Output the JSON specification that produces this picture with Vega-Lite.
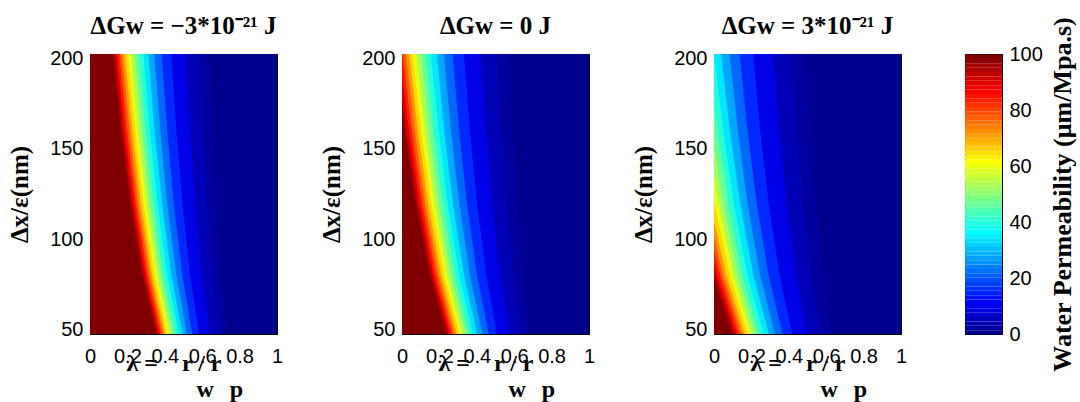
{
"$schema": "https://vega.github.io/schema/vega-lite/v6.json",
"background": "white",
"padding": {"left": 6, "top": 13, "right": 5, "bottom": 5},
"config": {
  "view": {"stroke": "black", "strokeWidth": 1},
  "axis": {"labelFont": "Liberation Sans", "labelFontSize": 20, "labelColor": "black", "tickColor": "black", "tickSize": -4, "tickWidth": 1, "domain": false, "grid": false, "titleFont": "Liberation Serif", "titleFontSize": 25, "titleFontWeight": "bold", "titleColor": "black", "zindex": 1, "labelOverlap": false, "labelFlush": false},
  "title": {"font": "Liberation Serif", "fontSize": 25, "fontWeight": "bold", "color": "black", "offset": 10}
},
"datasets": {
"p1": [
{"c":0.8,"y":47.5,"x":1},{"c":0.8,"y":202.5,"x":1},
{"c":2.3,"y":47.5,"x":0.733},{"c":2.3,"y":80,"x":0.701},{"c":2.3,"y":120,"x":0.675},{"c":2.3,"y":160,"x":0.654},{"c":2.3,"y":202.5,"x":0.636},
{"c":4.6,"y":47.5,"x":0.693},{"c":4.6,"y":80,"x":0.657},{"c":4.6,"y":120,"x":0.626},{"c":4.6,"y":160,"x":0.603},{"c":4.6,"y":202.5,"x":0.582},
{"c":9.4,"y":47.5,"x":0.641},{"c":9.4,"y":80,"x":0.599},{"c":9.4,"y":120,"x":0.563},{"c":9.4,"y":160,"x":0.535},{"c":9.4,"y":202.5,"x":0.511},
{"c":15.6,"y":47.5,"x":0.584},{"c":15.6,"y":80,"x":0.535},{"c":15.6,"y":120,"x":0.494},{"c":15.6,"y":160,"x":0.462},{"c":15.6,"y":202.5,"x":0.434},
{"c":21.9,"y":47.5,"x":0.547},{"c":21.9,"y":80,"x":0.494},{"c":21.9,"y":120,"x":0.448},{"c":21.9,"y":160,"x":0.413},{"c":21.9,"y":202.5,"x":0.383},
{"c":28.1,"y":47.5,"x":0.518},{"c":28.1,"y":80,"x":0.462},{"c":28.1,"y":120,"x":0.413},{"c":28.1,"y":160,"x":0.376},{"c":28.1,"y":202.5,"x":0.344},
{"c":34.4,"y":47.5,"x":0.495},{"c":34.4,"y":80,"x":0.435},{"c":34.4,"y":120,"x":0.385},{"c":34.4,"y":160,"x":0.346},{"c":34.4,"y":202.5,"x":0.312},
{"c":40.6,"y":47.5,"x":0.475},{"c":40.6,"y":80,"x":0.413},{"c":40.6,"y":120,"x":0.36},{"c":40.6,"y":160,"x":0.32},{"c":40.6,"y":202.5,"x":0.285},
{"c":46.9,"y":47.5,"x":0.457},{"c":46.9,"y":80,"x":0.393},{"c":46.9,"y":120,"x":0.339},{"c":46.9,"y":160,"x":0.297},{"c":46.9,"y":202.5,"x":0.261},
{"c":53.1,"y":47.5,"x":0.441},{"c":53.1,"y":80,"x":0.376},{"c":53.1,"y":120,"x":0.32},{"c":53.1,"y":160,"x":0.277},{"c":53.1,"y":202.5,"x":0.24},
{"c":59.4,"y":47.5,"x":0.427},{"c":59.4,"y":80,"x":0.36},{"c":59.4,"y":120,"x":0.302},{"c":59.4,"y":160,"x":0.258},{"c":59.4,"y":202.5,"x":0.22},
{"c":65.6,"y":47.5,"x":0.414},{"c":65.6,"y":80,"x":0.346},{"c":65.6,"y":120,"x":0.287},{"c":65.6,"y":160,"x":0.242},{"c":65.6,"y":202.5,"x":0.203},
{"c":71.9,"y":47.5,"x":0.402},{"c":71.9,"y":80,"x":0.332},{"c":71.9,"y":120,"x":0.272},{"c":71.9,"y":160,"x":0.226},{"c":71.9,"y":202.5,"x":0.186},
{"c":78.1,"y":47.5,"x":0.391},{"c":78.1,"y":80,"x":0.32},{"c":78.1,"y":120,"x":0.258},{"c":78.1,"y":160,"x":0.212},{"c":78.1,"y":202.5,"x":0.171},
{"c":84.4,"y":47.5,"x":0.381},{"c":84.4,"y":80,"x":0.308},{"c":84.4,"y":120,"x":0.246},{"c":84.4,"y":160,"x":0.198},{"c":84.4,"y":202.5,"x":0.157},
{"c":90.6,"y":47.5,"x":0.371},{"c":90.6,"y":80,"x":0.297},{"c":90.6,"y":120,"x":0.234},{"c":90.6,"y":160,"x":0.185},{"c":90.6,"y":202.5,"x":0.144},
{"c":96,"y":47.5,"x":0.362},{"c":96,"y":80,"x":0.287},{"c":96,"y":120,"x":0.222},{"c":96,"y":160,"x":0.173},{"c":96,"y":202.5,"x":0.131},
{"c":100,"y":47.5,"x":0.356},{"c":100,"y":80,"x":0.28},{"c":100,"y":120,"x":0.215},{"c":100,"y":160,"x":0.166},{"c":100,"y":202.5,"x":0.123}
],
"p2": [
{"c":0.8,"y":47.5,"x":1},{"c":0.8,"y":202.5,"x":1},
{"c":2.3,"y":47.5,"x":0.684},{"c":2.3,"y":80,"x":0.647},{"c":2.3,"y":120,"x":0.615},{"c":2.3,"y":160,"x":0.591},{"c":2.3,"y":202.5,"x":0.57},
{"c":4.6,"y":47.5,"x":0.637},{"c":4.6,"y":80,"x":0.595},{"c":4.6,"y":120,"x":0.558},{"c":4.6,"y":160,"x":0.53},{"c":4.6,"y":202.5,"x":0.506},
{"c":9.4,"y":47.5,"x":0.576},{"c":9.4,"y":80,"x":0.526},{"c":9.4,"y":120,"x":0.483},{"c":9.4,"y":160,"x":0.451},{"c":9.4,"y":202.5,"x":0.422},
{"c":15.6,"y":47.5,"x":0.508},{"c":15.6,"y":80,"x":0.451},{"c":15.6,"y":120,"x":0.401},{"c":15.6,"y":160,"x":0.363},{"c":15.6,"y":202.5,"x":0.331},
{"c":21.9,"y":47.5,"x":0.464},{"c":21.9,"y":80,"x":0.401},{"c":21.9,"y":120,"x":0.347},{"c":21.9,"y":160,"x":0.306},{"c":21.9,"y":202.5,"x":0.27},
{"c":28.1,"y":47.5,"x":0.43},{"c":28.1,"y":80,"x":0.363},{"c":28.1,"y":120,"x":0.306},{"c":28.1,"y":160,"x":0.262},{"c":28.1,"y":202.5,"x":0.224},
{"c":34.4,"y":47.5,"x":0.402},{"c":34.4,"y":80,"x":0.332},{"c":34.4,"y":120,"x":0.272},{"c":34.4,"y":160,"x":0.226},{"c":34.4,"y":202.5,"x":0.187},
{"c":40.6,"y":47.5,"x":0.379},{"c":40.6,"y":80,"x":0.306},{"c":40.6,"y":120,"x":0.243},{"c":40.6,"y":160,"x":0.196},{"c":40.6,"y":202.5,"x":0.154},
{"c":46.9,"y":47.5,"x":0.358},{"c":46.9,"y":80,"x":0.283},{"c":46.9,"y":120,"x":0.218},{"c":46.9,"y":160,"x":0.169},{"c":46.9,"y":202.5,"x":0.126},
{"c":53.1,"y":47.5,"x":0.34},{"c":53.1,"y":80,"x":0.262},{"c":53.1,"y":120,"x":0.196},{"c":53.1,"y":160,"x":0.145},{"c":53.1,"y":202.5,"x":0.101},
{"c":59.4,"y":47.5,"x":0.323},{"c":59.4,"y":80,"x":0.243},{"c":59.4,"y":120,"x":0.175},{"c":59.4,"y":160,"x":0.123},{"c":59.4,"y":202.5,"x":0.078},
{"c":65.6,"y":47.5,"x":0.308},{"c":65.6,"y":80,"x":0.226},{"c":65.6,"y":120,"x":0.157},{"c":65.6,"y":160,"x":0.103},{"c":65.6,"y":202.5,"x":0.057},
{"c":71.9,"y":47.5,"x":0.293},{"c":71.9,"y":80,"x":0.21},{"c":71.9,"y":120,"x":0.139},{"c":71.9,"y":160,"x":0.085},{"c":71.9,"y":202.5,"x":0.038},
{"c":78.1,"y":47.5,"x":0.28},{"c":78.1,"y":80,"x":0.196},{"c":78.1,"y":120,"x":0.123},{"c":78.1,"y":160,"x":0.068},{"c":78.1,"y":202.5,"x":0.02},
{"c":84.4,"y":47.5,"x":0.268},{"c":84.4,"y":80,"x":0.182},{"c":84.4,"y":120,"x":0.108},{"c":84.4,"y":160,"x":0.052},{"c":84.4,"y":202.5,"x":0.003},
{"c":90.6,"y":47.5,"x":0.256},{"c":90.6,"y":80,"x":0.169},{"c":90.6,"y":120,"x":0.094},{"c":90.6,"y":160,"x":0.037},{"c":90.6,"y":190.9,"x":0},
{"c":96,"y":47.5,"x":0.245},{"c":96,"y":80,"x":0.157},{"c":96,"y":120,"x":0.081},{"c":96,"y":160,"x":0.023},{"c":96,"y":178.1,"x":0},
{"c":100,"y":47.5,"x":0.238},{"c":100,"y":80,"x":0.149},{"c":100,"y":120,"x":0.072},{"c":100,"y":160,"x":0.013},{"c":100,"y":170.4,"x":0}
],
"p3": [
{"c":0.8,"y":47.5,"x":1},{"c":0.8,"y":202.5,"x":1},
{"c":2.3,"y":47.5,"x":0.626},{"c":2.3,"y":80,"x":0.583},{"c":2.3,"y":120,"x":0.545},{"c":2.3,"y":160,"x":0.516},{"c":2.3,"y":202.5,"x":0.492},
{"c":4.6,"y":47.5,"x":0.571},{"c":4.6,"y":80,"x":0.521},{"c":4.6,"y":120,"x":0.477},{"c":4.6,"y":160,"x":0.444},{"c":4.6,"y":202.5,"x":0.416},
{"c":9.4,"y":47.5,"x":0.498},{"c":9.4,"y":80,"x":0.44},{"c":9.4,"y":120,"x":0.389},{"c":9.4,"y":160,"x":0.35},{"c":9.4,"y":202.5,"x":0.317},
{"c":15.6,"y":47.5,"x":0.419},{"c":15.6,"y":80,"x":0.35},{"c":15.6,"y":120,"x":0.292},{"c":15.6,"y":160,"x":0.247},{"c":15.6,"y":202.5,"x":0.209},
{"c":21.9,"y":47.5,"x":0.366},{"c":21.9,"y":80,"x":0.292},{"c":21.9,"y":120,"x":0.228},{"c":21.9,"y":160,"x":0.179},{"c":21.9,"y":202.5,"x":0.137},
{"c":28.1,"y":47.5,"x":0.326},{"c":28.1,"y":80,"x":0.247},{"c":28.1,"y":120,"x":0.179},{"c":28.1,"y":160,"x":0.128},{"c":28.1,"y":202.5,"x":0.083},
{"c":34.4,"y":47.5,"x":0.294},{"c":34.4,"y":80,"x":0.211},{"c":34.4,"y":120,"x":0.14},{"c":34.4,"y":160,"x":0.085},{"c":34.4,"y":202.5,"x":0.038},
{"c":40.6,"y":47.5,"x":0.266},{"c":40.6,"y":80,"x":0.179},{"c":40.6,"y":120,"x":0.106},{"c":40.6,"y":160,"x":0.049},{"c":40.6,"y":202.5,"x":0},
{"c":46.9,"y":47.5,"x":0.241},{"c":46.9,"y":80,"x":0.152},{"c":46.9,"y":120,"x":0.076},{"c":46.9,"y":160,"x":0.017},{"c":46.9,"y":173.7,"x":0},
{"c":53.1,"y":47.5,"x":0.219},{"c":53.1,"y":80,"x":0.128},{"c":53.1,"y":120,"x":0.049},{"c":53.1,"y":152,"x":0},
{"c":59.4,"y":47.5,"x":0.199},{"c":59.4,"y":80,"x":0.105},{"c":59.4,"y":120,"x":0.025},{"c":59.4,"y":135.1,"x":0},
{"c":65.6,"y":47.5,"x":0.181},{"c":65.6,"y":80,"x":0.085},{"c":65.6,"y":121.6,"x":0},
{"c":71.9,"y":47.5,"x":0.164},{"c":71.9,"y":80,"x":0.066},{"c":71.9,"y":110.5,"x":0},
{"c":78.1,"y":47.5,"x":0.149},{"c":78.1,"y":80,"x":0.049},{"c":78.1,"y":101.3,"x":0},
{"c":84.4,"y":47.5,"x":0.134},{"c":84.4,"y":80,"x":0.033},{"c":84.4,"y":93.5,"x":0},
{"c":90.6,"y":47.5,"x":0.12},{"c":90.6,"y":80,"x":0.017},{"c":90.6,"y":86.9,"x":0},
{"c":96,"y":47.5,"x":0.107},{"c":96,"y":81.1,"x":0},
{"c":100,"y":47.5,"x":0.099},{"c":100,"y":77.6,"x":0}
],
"cb": [
{"c":0.78},{"c":2.34},{"c":3.91},{"c":5.47},{"c":7.03},{"c":8.59},{"c":10.16},{"c":11.72},
{"c":13.28},{"c":14.84},{"c":16.41},{"c":17.97},{"c":19.53},{"c":21.09},{"c":22.66},{"c":24.22},
{"c":25.78},{"c":27.34},{"c":28.91},{"c":30.47},{"c":32.03},{"c":33.59},{"c":35.16},{"c":36.72},
{"c":38.28},{"c":39.84},{"c":41.41},{"c":42.97},{"c":44.53},{"c":46.09},{"c":47.66},{"c":49.22},
{"c":50.78},{"c":52.34},{"c":53.91},{"c":55.47},{"c":57.03},{"c":58.59},{"c":60.16},{"c":61.72},
{"c":63.28},{"c":64.84},{"c":66.41},{"c":67.97},{"c":69.53},{"c":71.09},{"c":72.66},{"c":74.22},
{"c":75.78},{"c":77.34},{"c":78.91},{"c":80.47},{"c":82.03},{"c":83.59},{"c":85.16},{"c":86.72},
{"c":88.28},{"c":89.84},{"c":91.41},{"c":92.97},{"c":94.53},{"c":96.09},{"c":97.66},{"c":99.22}
]
},
"hconcat": [
{
"hconcat": [
{
"title": "ΔGw = −3*10⁻²¹ J",
"width": 187, "height": 280,
"data": {"name": "p1"},
"layer": [
{
"mark": {"type": "area", "orient": "horizontal", "interpolate": "linear", "clip": true},
"encoding": {
"y": {"field": "y", "type": "quantitative", "scale": {"domain": [47.5, 202.5], "nice": false, "zero": false}, "axis": {"orient": "left", "values": [50, 100, 150, 200], "labelPadding": 11, "title": "Δx/ε(nm)", "titleAngle": 270, "titleX": -71, "titleY": 140, "titleAlign": "center", "titleBaseline": "middle"}},
"x": {"field": "x", "type": "quantitative", "stack": null, "scale": {"domain": [0, 1], "nice": false, "zero": false}, "axis": {"orient": "bottom", "values": [0, 0.2, 0.4, 0.6, 0.8, 1], "format": "~g", "labelPadding": 16, "title": ["λ =\u2003r /\u2005r", "\u200b\u2003\u2003\u2002\u2005\u2006w\u2002\u2006p"], "titleFontSize": 24, "titleAlign": "left", "titleX": 36, "titleY": 36, "titleBaseline": "alphabetic", "titleLineHeight": 26}},
"color": {"field": "c", "type": "quantitative", "scale": {"type": "linear", "domain": [0.8, 11.7, 36.7, 61.7, 86.7, 99.2], "range": ["#00008f", "#0000ff", "#00ffff", "#ffff00", "#ff0000", "#800000"], "interpolate": "rgb", "clamp": true}, "legend": null}
}
},
{
"mark": {"type": "area", "orient": "horizontal", "opacity": 0},
"encoding": {
"y": {"field": "y", "type": "quantitative", "scale": {"domain": [47.5, 202.5], "nice": false, "zero": false}, "axis": {"orient": "right", "values": [50, 100, 150, 200], "labels": false, "title": null}},
"x": {"field": "x", "type": "quantitative", "stack": null, "scale": {"domain": [0, 1], "nice": false, "zero": false}, "axis": {"orient": "top", "values": [0, 0.2, 0.4, 0.6, 0.8, 1], "labels": false, "title": null}}
}
}
],
"resolve": {"axis": {"x": "independent", "y": "independent"}}
},
{
"title": "ΔGw = 0 J",
"width": 187, "height": 280,
"data": {"name": "p2"},
"layer": [
{
"mark": {"type": "area", "orient": "horizontal", "interpolate": "linear", "clip": true},
"encoding": {
"y": {"field": "y", "type": "quantitative", "scale": {"domain": [47.5, 202.5], "nice": false, "zero": false}, "axis": {"orient": "left", "values": [50, 100, 150, 200], "labelPadding": 11, "title": "Δx/ε(nm)", "titleAngle": 270, "titleX": -71, "titleY": 140, "titleAlign": "center", "titleBaseline": "middle"}},
"x": {"field": "x", "type": "quantitative", "stack": null, "scale": {"domain": [0, 1], "nice": false, "zero": false}, "axis": {"orient": "bottom", "values": [0, 0.2, 0.4, 0.6, 0.8, 1], "format": "~g", "labelPadding": 16, "title": ["λ =\u2003r /\u2005r", "\u200b\u2003\u2003\u2002\u2005\u2006w\u2002\u2006p"], "titleFontSize": 24, "titleAlign": "left", "titleX": 36, "titleY": 36, "titleBaseline": "alphabetic", "titleLineHeight": 26}},
"color": {"field": "c", "type": "quantitative", "scale": {"type": "linear", "domain": [0.8, 11.7, 36.7, 61.7, 86.7, 99.2], "range": ["#00008f", "#0000ff", "#00ffff", "#ffff00", "#ff0000", "#800000"], "interpolate": "rgb", "clamp": true}, "legend": null}
}
},
{
"mark": {"type": "area", "orient": "horizontal", "opacity": 0},
"encoding": {
"y": {"field": "y", "type": "quantitative", "scale": {"domain": [47.5, 202.5], "nice": false, "zero": false}, "axis": {"orient": "right", "values": [50, 100, 150, 200], "labels": false, "title": null}},
"x": {"field": "x", "type": "quantitative", "stack": null, "scale": {"domain": [0, 1], "nice": false, "zero": false}, "axis": {"orient": "top", "values": [0, 0.2, 0.4, 0.6, 0.8, 1], "labels": false, "title": null}}
}
}
],
"resolve": {"axis": {"x": "independent", "y": "independent"}}
},
{
"title": "ΔGw = 3*10⁻²¹ J",
"width": 187, "height": 280,
"data": {"name": "p3"},
"layer": [
{
"mark": {"type": "area", "orient": "horizontal", "interpolate": "linear", "clip": true},
"encoding": {
"y": {"field": "y", "type": "quantitative", "scale": {"domain": [47.5, 202.5], "nice": false, "zero": false}, "axis": {"orient": "left", "values": [50, 100, 150, 200], "labelPadding": 11, "title": "Δx/ε(nm)", "titleAngle": 270, "titleX": -71, "titleY": 140, "titleAlign": "center", "titleBaseline": "middle"}},
"x": {"field": "x", "type": "quantitative", "stack": null, "scale": {"domain": [0, 1], "nice": false, "zero": false}, "axis": {"orient": "bottom", "values": [0, 0.2, 0.4, 0.6, 0.8, 1], "format": "~g", "labelPadding": 16, "title": ["λ =\u2003r /\u2005r", "\u200b\u2003\u2003\u2002\u2005\u2006w\u2002\u2006p"], "titleFontSize": 24, "titleAlign": "left", "titleX": 36, "titleY": 36, "titleBaseline": "alphabetic", "titleLineHeight": 26}},
"color": {"field": "c", "type": "quantitative", "scale": {"type": "linear", "domain": [0.8, 11.7, 36.7, 61.7, 86.7, 99.2], "range": ["#00008f", "#0000ff", "#00ffff", "#ffff00", "#ff0000", "#800000"], "interpolate": "rgb", "clamp": true}, "legend": null}
}
},
{
"mark": {"type": "area", "orient": "horizontal", "opacity": 0},
"encoding": {
"y": {"field": "y", "type": "quantitative", "scale": {"domain": [47.5, 202.5], "nice": false, "zero": false}, "axis": {"orient": "right", "values": [50, 100, 150, 200], "labels": false, "title": null}},
"x": {"field": "x", "type": "quantitative", "stack": null, "scale": {"domain": [0, 1], "nice": false, "zero": false}, "axis": {"orient": "top", "values": [0, 0.2, 0.4, 0.6, 0.8, 1], "labels": false, "title": null}}
}
}
],
"resolve": {"axis": {"x": "independent", "y": "independent"}}
}
],
"spacing": 125,
"bounds": "flush",
"resolve": {"scale": {"x": "independent", "y": "independent", "color": "independent"}}
},
{
"width": 37, "height": 280,
"data": {"name": "cb"},
"mark": {"type": "rect"},
"encoding": {
"y": {"field": "c", "type": "quantitative", "bin": {"extent": [0, 100], "step": 1.5625}, "scale": {"domain": [0, 100], "nice": false, "zero": false}, "axis": {"orient": "right", "values": [0, 20, 40, 60, 80, 100], "format": "d", "labelPadding": 11, "title": "Water Permeability (μm/Mpa.s)", "titleFontSize": 26, "titleAngle": 270, "titleX": 60, "titleY": 140, "titleAlign": "center", "titleBaseline": "middle"}},
"color": {"field": "c", "type": "quantitative", "scale": {"type": "linear", "domain": [0.8, 11.7, 36.7, 61.7, 86.7, 99.2], "range": ["#00008f", "#0000ff", "#00ffff", "#ffff00", "#ff0000", "#800000"], "interpolate": "rgb", "clamp": true}, "legend": null}
}
}
],
"spacing": 56,
"bounds": "full",
"resolve": {"scale": {"y": "independent", "color": "independent"}}
}
